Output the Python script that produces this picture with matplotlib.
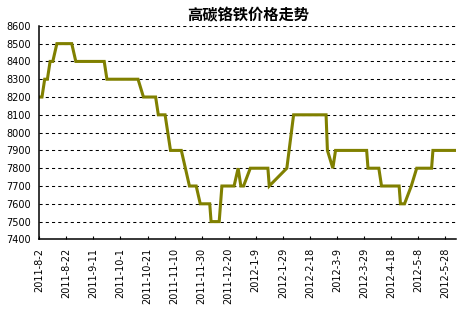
import matplotlib
matplotlib.use("Agg")
import matplotlib.pyplot as plt
import matplotlib.dates as mdates
import numpy as np
import pandas as pd

plt.rcParams['font.family'] = ['Noto Sans CJK SC', 'DejaVu Sans']

title = "高碳铬铁价格走势"

# price breakpoints (date, yuan/ton)
dates = ["2011-08-02", "2011-08-04", "2011-08-06", "2011-08-08", "2011-08-10",
         "2011-08-12", "2011-08-15", "2011-08-26", "2011-08-29", "2011-09-19",
         "2011-09-21", "2011-10-14", "2011-10-18", "2011-10-27", "2011-10-29",
         "2011-11-03", "2011-11-07", "2011-11-15", "2011-11-21", "2011-11-26",
         "2011-11-29", "2011-12-06", "2011-12-07", "2011-12-13", "2011-12-15",
         "2011-12-24", "2011-12-27", "2011-12-29", "2011-12-31", "2012-01-05",
         "2012-01-18", "2012-01-19", "2012-02-01", "2012-02-06", "2012-03-01",
         "2012-03-02", "2012-03-06", "2012-03-08", "2012-03-31", "2012-04-01",
         "2012-04-09", "2012-04-11", "2012-04-24", "2012-04-25", "2012-04-28",
         "2012-05-03", "2012-05-07", "2012-05-18", "2012-05-19", "2012-06-05"]
prices = [8200, 8200, 8300, 8300, 8400,
          8400, 8500, 8500, 8400, 8400,
          8300, 8300, 8200, 8200, 8100,
          8100, 7900, 7900, 7700, 7700,
          7600, 7600, 7500, 7500, 7700,
          7700, 7800, 7700, 7700, 7800,
          7800, 7700, 7800, 8100, 8100,
          7900, 7800, 7900, 7900, 7800,
          7800, 7700, 7700, 7600, 7600,
          7700, 7800, 7800, 7900, 7900]

tick_dates = ["2011-08-02", "2011-08-22", "2011-09-11", "2011-10-01", "2011-10-21",
              "2011-11-10", "2011-11-30", "2011-12-20", "2012-01-09", "2012-01-29",
              "2012-02-18", "2012-03-09", "2012-03-29", "2012-04-18", "2012-05-08",
              "2012-05-28"]
y_ticks = list(range(7400, 8601, 100))

x = pd.to_datetime(dates)
xt = pd.to_datetime(tick_dates)
xt_labels = [f"{d.year}-{d.month}-{d.day}" for d in xt]

fig = plt.figure(figsize=(4.71, 3.15), dpi=100)
ax = fig.add_axes([0.0834, 0.240, 0.8846, 0.678])

ax.plot(x, prices, color="#808000", lw=2.2, solid_joinstyle="miter")

ax.set_xlim(pd.Timestamp("2011-08-02"), pd.Timestamp("2012-06-05"))
ax.set_ylim(7400, 8600)
ax.set_yticks(y_ticks)
ax.set_yticklabels([str(v) for v in y_ticks], fontsize=7, family="DejaVu Sans")
ax.set_xticks(xt)
ax.set_xticklabels(xt_labels, rotation=90, fontsize=7, family="DejaVu Sans")

for v in y_ticks[1:]:
    ax.axhline(v, color="black", lw=0.75, linestyle=(0, (3, 3)), zorder=0.5)

ax.spines['top'].set_visible(False)
ax.spines['right'].set_visible(False)
ax.spines['left'].set_linewidth(1.1)
ax.spines['bottom'].set_linewidth(1.1)
ax.tick_params(axis='y', length=0, pad=6)
ax.tick_params(axis='x', direction='in', length=2.5, width=0.8, pad=6)

fig.text(0.526, 0.95, title, ha="center", va="center", fontsize=11,
         fontweight="bold")

fig.savefig("out.png", dpi=100)
